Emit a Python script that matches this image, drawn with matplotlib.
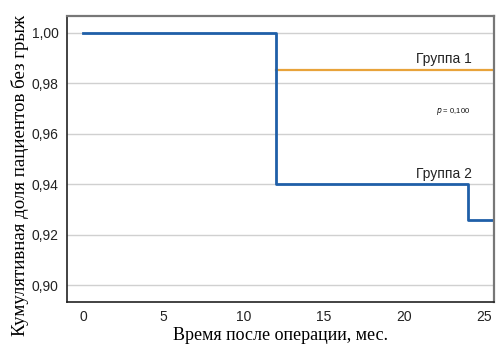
import matplotlib
matplotlib.use("Agg")
import matplotlib.pyplot as plt

# Data
g2_times = [0, 12, 24, 25.5]
g2_surv = [1.00, 0.94, 0.9258, 0.9258]
g1_times = [12, 25.5]
g1_surv = [0.9853, 0.9853]
yticks = [0.90, 0.92, 0.94, 0.96, 0.98, 1.00]
ytick_labels = ["0,90", "0,92", "0,94", "0,96", "0,98", "1,00"]
xticks = [0, 5, 10, 15, 20, 25]

fig = plt.figure(figsize=(5.02, 3.57), dpi=100)
ax = fig.add_axes([67/502, 1-302/357, (494-67)/502, (302-16)/357])

ax.set_ylim(0.8933, 1.0067)
ax.set_xlim(-1.0, 25.6)
ax.set_yticks(yticks)
ax.set_yticklabels(ytick_labels, fontsize=10, family="Liberation Sans", color="#222222")
ax.set_xticks(xticks)
ax.set_xticklabels([str(v) for v in xticks], fontsize=10, family="Liberation Sans", color="#222222")
ax.tick_params(length=0, pad=6)
ax.grid(axis="y", color="#d0d0d0", linewidth=1)
ax.set_axisbelow(True)

ax.step(g1_times, g1_surv, where="post", color="#e8a33a", linewidth=1.6)
ax.step(g2_times, g2_surv, where="post", color="#1f5fa8", linewidth=2)

ax.text(24.2, 0.9898, "Группа 1", fontsize=10, family="Liberation Sans", ha="right", va="center", color="#222222")
ax.text(24.2, 0.9440, "Группа 2", fontsize=10, family="Liberation Sans", ha="right", va="center", color="#222222")
ax.text(24.1, 0.9690, "$p$ = 0,100", fontsize=5.5, family="Liberation Sans", ha="right", va="center", color="#111111")

for s in ["left", "bottom"]:
    ax.spines[s].set_color("#222222")
    ax.spines[s].set_linewidth(1.2)
for s in ["top", "right"]:
    ax.spines[s].set_color("#777777")
    ax.spines[s].set_linewidth(1.6)

ax.set_xlabel("Время после операции, мес.", fontsize=13, family="Liberation Serif", labelpad=2)
ax.set_ylabel("Кумулятивная доля пациентов без грыж", fontsize=13.6, family="Liberation Serif")
ax.yaxis.set_label_coords(-0.088, 0.444)

fig.savefig("out.png", dpi=100)
